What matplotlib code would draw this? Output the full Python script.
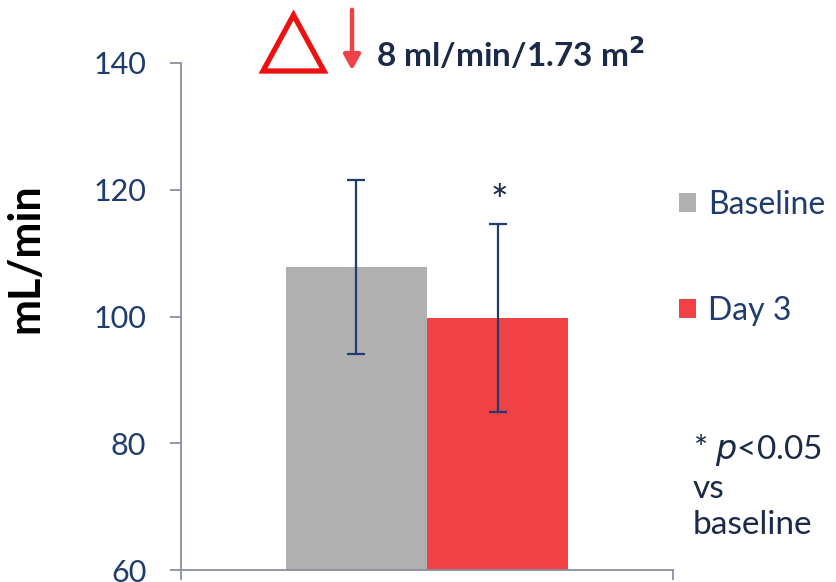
import matplotlib
matplotlib.use("Agg")
from matplotlib import pyplot as plt
from matplotlib.patches import Polygon

plt.rcParams['font.family'] = ['Lato', 'DejaVu Sans']

groups = ['Baseline', 'Day 3']
means = [107.8, 99.8]
errs = [13.7, 14.8]
colors = ['#B0B0B0', '#EF4146']
y_ticks = [60, 80, 100, 120, 140]

navy = '#1F3C6E'
dark = '#1B2A47'
axis_col = '#8A8FA0'

fig = plt.figure(figsize=(8.36, 5.82), dpi=100)
ax = fig.add_axes([181 / 836, 12 / 582, 492 / 836, 507 / 582])

w = 0.2866
xs = [-w / 2, w / 2]
for x, m, e, c, g in zip(xs, means, errs, colors, groups):
    ax.bar(x, m - 60, width=w, bottom=60, color=c, label=g, zorder=2)
    ax.errorbar(x, m, yerr=e, fmt='none', ecolor=navy, elinewidth=1.6,
                capsize=6.5, capthick=1.6, zorder=3)

# significance mark over Day 3
ax.text(xs[1] + 0.004, means[1] + errs[1] + 0.3, '*', ha='center', va='bottom',
        fontsize=30, color=dark)

ax.set_xlim(-0.5, 0.5)
ax.set_ylim(60, 140)
ax.set_yticks(y_ticks)
ax.set_xticks([-0.5, 0.5])
ax.set_xticklabels([])
ax.tick_params(axis='y', direction='out', length=8, width=1.3, color=axis_col,
               labelcolor=navy, labelsize=22, pad=17)
ax.tick_params(axis='x', direction='out', length=7, width=1.3, color=axis_col)
for s in ['top', 'right']:
    ax.spines[s].set_visible(False)
for s in ['left', 'bottom']:
    ax.spines[s].set_color(axis_col)
    ax.spines[s].set_linewidth(1.3)

fig.text(25 / 836, 1 - 258 / 582, 'mL/min', fontsize=31, fontweight='bold',
         color='black', rotation=90, ha='center', va='center')

leg = ax.legend(loc='upper left', bbox_to_anchor=(0.986, 0.775),
                frameon=False, fontsize=23, handlelength=0.55, handleheight=0.55,
                handletextpad=0.35, labelspacing=2.38, borderaxespad=0)
for t in leg.get_texts():
    t.set_color(navy)

fig.text(693 / 836, 1 - 486 / 582, '* $\\mathit{p}$<0.05\nvs\nbaseline',
         fontsize=24, color=dark, va='center', ha='left', linespacing=1.25)

# title: delta symbol, down arrow and value
tri = Polygon([(263 / 836, 1 - 71 / 582), (324 / 836, 1 - 71 / 582),
               (293.5 / 836, 1 - 15 / 582)], closed=True, fill=False,
              edgecolor='#EE1111', linewidth=3.8, joinstyle='miter',
              transform=fig.transFigure)
fig.patches.append(tri)
fig.add_artist(plt.Annotation('', xy=(352 / 836, 1 - 73 / 582),
                              xytext=(352 / 836, 1 - 7 / 582),
                              xycoords='figure fraction',
                              arrowprops=dict(arrowstyle='-|>,head_length=0.9,head_width=0.5',
                                              color='#EF4146', lw=3.2)))
fig.text(376 / 836, 1 - 54 / 582, '8 ml/min/1.73 m$^\\mathbf{2}$', fontsize=24,
         fontweight='bold', color=dark, va='center', ha='left')

fig.savefig('out.png', dpi=100)
